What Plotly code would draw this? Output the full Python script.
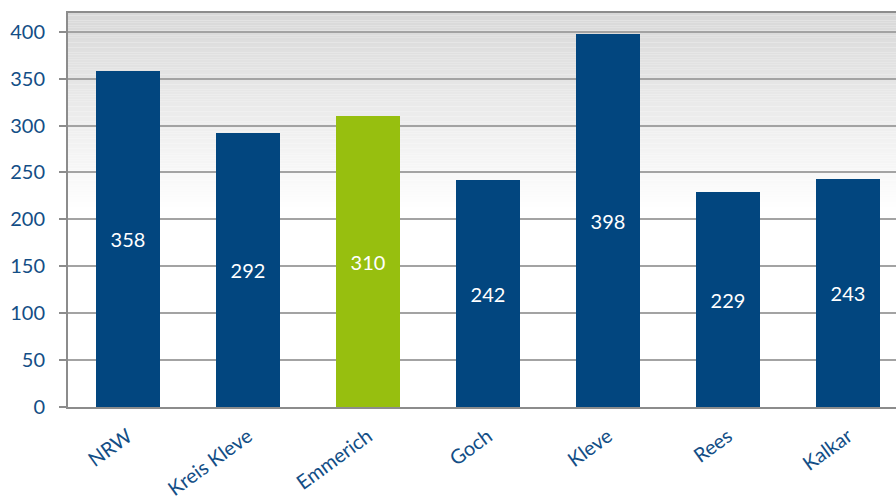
import plotly.graph_objects as go

# Values per region
regions = ["NRW", "Kreis Kleve", "Emmerich", "Goch", "Kleve", "Rees", "Kalkar"]
values = [358, 292, 310, 242, 398, 229, 243]
highlight = "Emmerich"

y_ticks = [0, 50, 100, 150, 200, 250, 300, 350, 400]

NAVY = "#02467F"
GREEN = "#97BF0F"
TEXT = "#134E86"
GRID = "#A3A3A3"
FONT = "Lato"

bar_colors = [GREEN if r == highlight else NAVY for r in regions]

fig = go.Figure()
fig.add_trace(go.Bar(
    x=regions,
    y=values,
    marker=dict(color=bar_colors, line=dict(width=0)),
    width=0.535,
    text=[str(v) for v in values],
    textposition="inside",
    insidetextanchor="middle",
    textangle=0,
    textfont=dict(family=FONT, size=20, color="white"),
    hoverinfo="skip",
))

# Vertical grey-to-white fill behind the grid (upper half of plot area)
y_top = 420
steps = 80
start = (216, 216, 216)
shapes = []
for i in range(steps):
    f0 = i / steps
    f1 = (i + 1) / steps
    y1 = y_top - f0 * (y_top * 0.5)
    y0 = y_top - f1 * (y_top * 0.5)
    t = (f0 + f1) / 2
    c = tuple(int(round(s + (255 - s) * t)) for s in start)
    shapes.append(dict(
        type="rect", xref="paper", yref="y",
        x0=0, x1=1, y0=y0, y1=y1,
        fillcolor="rgb(%d,%d,%d)" % c,
        line=dict(width=0), layer="below",
    ))

fig.update_layout(
    width=896, height=501,
    margin=dict(l=68, r=0, t=13, b=94),
    paper_bgcolor="white",
    plot_bgcolor="white",
    showlegend=False,
    bargap=0,
    shapes=shapes,
    font=dict(family=FONT, color=TEXT),
)

fig.update_xaxes(
    type="category",
    range=[-0.5, 6.4],
    tickangle=-36,
    tickfont=dict(family=FONT, size=20, color=TEXT),
    showgrid=False,
    showline=True, mirror=True,
    linecolor="#8C8C8C", linewidth=2,
    ticks="",
    ticklabelstandoff=8,
    automargin=False,
)

fig.update_yaxes(
    range=[0, 420],
    tickvals=y_ticks,
    tickfont=dict(family=FONT, size=20, color=TEXT),
    showgrid=True, gridcolor=GRID, gridwidth=1.5,
    zeroline=False,
    showline=True, linecolor="#8C8C8C", linewidth=2,
    ticks="outside", ticklen=7, tickcolor="#8C8C8C", tickwidth=1.5,
    ticklabelstandoff=10,
    automargin=False,
)

fig.write_html("out.html")
